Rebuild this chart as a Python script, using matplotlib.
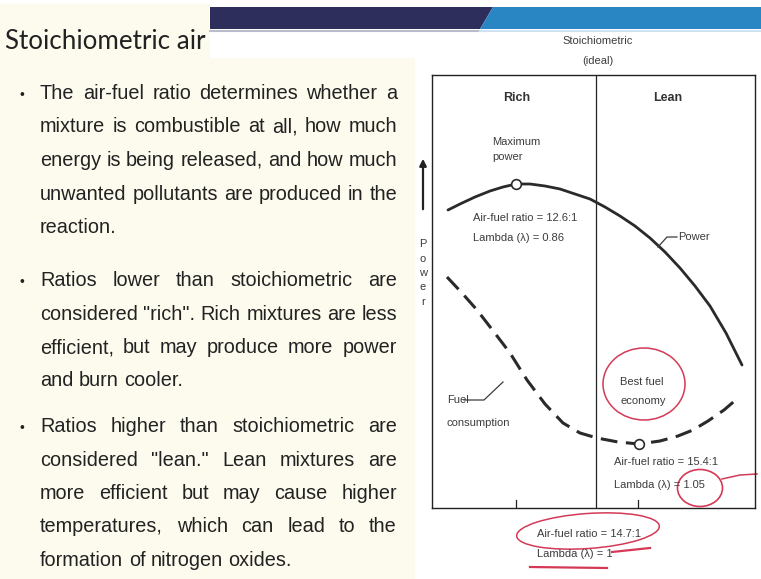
import matplotlib
matplotlib.use('Agg')
import matplotlib.pyplot as plt
from matplotlib import font_manager
from matplotlib.patches import Rectangle, Polygon, Ellipse

# ---- slide text ----
title = "Stoichiometric air"
para1 = ["The air-fuel ratio determines whether a",
         "mixture is combustible at all, how much",
         "energy is being released, and how much",
         "unwanted pollutants are produced in the",
         "reaction."]
para2 = ["Ratios lower than stoichiometric are",
         'considered "rich". Rich mixtures are less',
         "efficient, but may produce more power",
         "and burn cooler."]
para3 = ["Ratios higher than stoichiometric are",
         'considered "lean." Lean mixtures are',
         "more efficient but may cause higher",
         "temperatures, which can lead to the",
         "formation of nitrogen oxides."]

# ---- diagram data (diagram units, y grows downward like the sketch) ----
power_x = [448, 460, 475, 490, 503, 516, 530, 545, 560, 575, 590, 605, 620, 635, 650, 665, 680, 695, 710, 726, 742]
power_y = [210, 204, 197, 191, 187, 184, 184, 186, 189, 194, 199, 207, 216, 226, 238, 252, 268, 286, 306, 333, 365]
fuel_x = [447, 462, 477, 494, 510, 527, 545, 563, 580, 597, 618, 639, 660, 678, 693, 708, 724, 738]
fuel_y = [277, 293, 310, 332, 353, 380, 404, 423, 433, 438, 442, 444, 441, 436, 430, 421, 410, 398]
max_power = (516, 184)
best_economy = (639, 444)
stoich_x = 596
tick_x = [516, 638]

fonts = {f.name for f in font_manager.fontManager.ttflist}
dfont = 'Liberation Sans Narrow' if 'Liberation Sans Narrow' in fonts else 'Liberation Sans'
dsize = 9.5 if dfont == 'Liberation Sans Narrow' else 8
gray = '#3c3c3c'
red = '#d43a55'

fig = plt.figure(figsize=(7.61, 5.79), dpi=100, facecolor='white')
bg = fig.add_axes([0, 0, 1, 1])
bg.set_xlim(0, 761)
bg.set_ylim(579, 0)
bg.axis('off')

# backgrounds and banner
cream = '#fdfbee'
bg.add_patch(Rectangle((0, 4), 210, 60, color=cream, lw=0))
bg.add_patch(Rectangle((0, 58), 415, 521, color=cream, lw=0))
bg.add_patch(Polygon([(210, 7), (493, 7), (480, 29), (210, 29)], closed=True, color='#2e2e5c', lw=0))
bg.add_patch(Polygon([(493, 7), (761, 7), (761, 29), (480, 29)], closed=True, color='#2a86c3', lw=0))
bg.plot([210, 480], [30.5, 30.5], color='#b9bccb', lw=1.5)
bg.plot([480, 761], [30.5, 30.5], color='#cfe3f2', lw=1.5)

renderer = fig.canvas.get_renderer()

def text_width(s, **kw):
    t = bg.text(0, 0, s, **kw)
    w = t.get_window_extent(renderer).width
    t.remove()
    return w

# title, sized to the width seen on the slide
tsize = 24 * 200 / text_width(title, fontsize=24, family='Lato')
bg.text(5, 49, title, fontsize=tsize, family='Lato', color='#222222', va='baseline')

# bullets, justified between x0 and x1
x0, x1 = 40, 397
all_lines = para1 + para2 + para3
natural = [text_width(l, fontsize=10, family='Liberation Sans') for l in all_lines]
bsize = 10 * min(357 / w for w in natural)

def justify(lines, y0, dy):
    for i, line in enumerate(lines):
        y = y0 + i * dy
        words = line.split()
        ws = [text_width(w, fontsize=bsize, family='Liberation Sans') for w in words]
        if i == len(lines) - 1:
            gap = text_width('a a', fontsize=bsize, family='Liberation Sans') - \
                  2 * text_width('a', fontsize=bsize, family='Liberation Sans')
        else:
            gap = (x1 - x0 - sum(ws)) / (len(words) - 1)
        x = x0
        for w, wd in zip(words, ws):
            bg.text(x, y, w, fontsize=bsize, family='Liberation Sans', color='#222222', va='baseline')
            x += wd + gap
    bg.text(22, y0, '•', fontsize=bsize * 0.7, family='Liberation Sans', color='#222222', va='baseline', ha='center')

justify(para1, 99, 33.5)
justify(para2, 286, 33.5)
justify(para3, 432, 33.5)

# ---- diagram ----
L, R, T, B = 432, 755, 75, 508
ax = fig.add_axes([L / 761, (579 - B) / 579, (R - L) / 761, (B - T) / 579])
ax.set_xlim(L, R)
ax.set_ylim(B, T)
ax.set_facecolor('white')
ax.set_xticks([])
ax.set_yticks([])
for s in ax.spines.values():
    s.set_linewidth(1.0)
    s.set_color('#222222')

ax.axvline(stoich_x, color='#222222', lw=0.9)
for tx in tick_x:
    ax.plot([tx, tx], [B, B - 8], color='#222222', lw=0.9)

ax.plot(power_x, power_y, color='#2a2a2a', lw=2.0, solid_capstyle='round')
ax.plot(fuel_x, fuel_y, color='#2a2a2a', lw=2.2, dashes=(5.5, 2.8))
ax.plot(*max_power, 'o', ms=7, mfc='white', mec='#2a2a2a', mew=1.2)
ax.plot(*best_economy, 'o', ms=7, mfc='white', mec='#2a2a2a', mew=1.2)

kw = dict(family=dfont, fontsize=dsize, color=gray)
ax.text(598, 41, 'Stoichiometric', ha='center', va='center', clip_on=False, **kw)
ax.text(598, 61, '(ideal)', ha='center', va='center', clip_on=False, **kw)
ax.text(517, 98, 'Rich', ha='center', va='center', fontweight='bold', family=dfont, fontsize=dsize + 1, color='#333333')
ax.text(668, 98, 'Lean', ha='center', va='center', fontweight='bold', family=dfont, fontsize=dsize + 1, color='#333333')
ax.text(492, 142, 'Maximum', va='center', **kw)
ax.text(492, 157, 'power', va='center', **kw)
ax.text(473, 218, 'Air-fuel ratio = 12.6:1', va='center', **kw)
ax.text(473, 238, 'Lambda (\u03bb) = 0.86', va='center', **kw)
ax.plot([658, 667, 677], [247, 237, 237], color=gray, lw=0.9)
ax.text(678, 237, 'Power', va='center', **kw)
ax.plot([464, 484, 503], [400, 400, 382], color=gray, lw=0.9)
ax.text(447, 400, 'Fuel', va='center', **kw)
ax.text(447, 423, 'consumption', va='center', **kw)
ax.text(642, 382, 'Best fuel', ha='center', va='center', **kw)
ax.text(643, 401, 'economy', ha='center', va='center', **kw)
ax.text(614, 462, 'Air-fuel ratio = 15.4:1', va='center', **kw)
ax.text(614, 485, 'Lambda (\u03bb) = 1.05', va='center', **kw)
ax.text(537, 534, 'Air-fuel ratio = 14.7:1', va='center', clip_on=False, **kw)
ax.text(537, 554, 'Lambda (\u03bb) = 1', va='center', clip_on=False, **kw)

# power axis arrow and vertical label
ax.annotate('', xy=(423, 156), xytext=(423, 212), annotation_clip=False,
            arrowprops=dict(arrowstyle='-|>', color='#222222', lw=1.6, mutation_scale=10))
for i, ch in enumerate('Power'):
    ax.text(423, 244 + i * 14.5, ch, ha='center', va='center', clip_on=False, **kw)

# red hand-drawn marks
ax.add_patch(Ellipse((644, 384), 82, 72, fill=False, ec=red, lw=1.1, clip_on=False))
ax.add_patch(Ellipse((700, 488), 45, 37, fill=False, ec=red, lw=1.2, clip_on=False))
ax.plot([722, 740, 757], [479, 475, 474], color=red, lw=1.1, clip_on=False)
ax.add_patch(Ellipse((588, 531), 143, 35, angle=-4, fill=False, ec=red, lw=1.1, clip_on=False))
ax.plot([612, 650], [552, 548], color=red, lw=1.6, clip_on=False)
ax.plot([530, 607], [567, 568], color=red, lw=1.6, clip_on=False)

fig.savefig('out.png', dpi=100, facecolor='white')
